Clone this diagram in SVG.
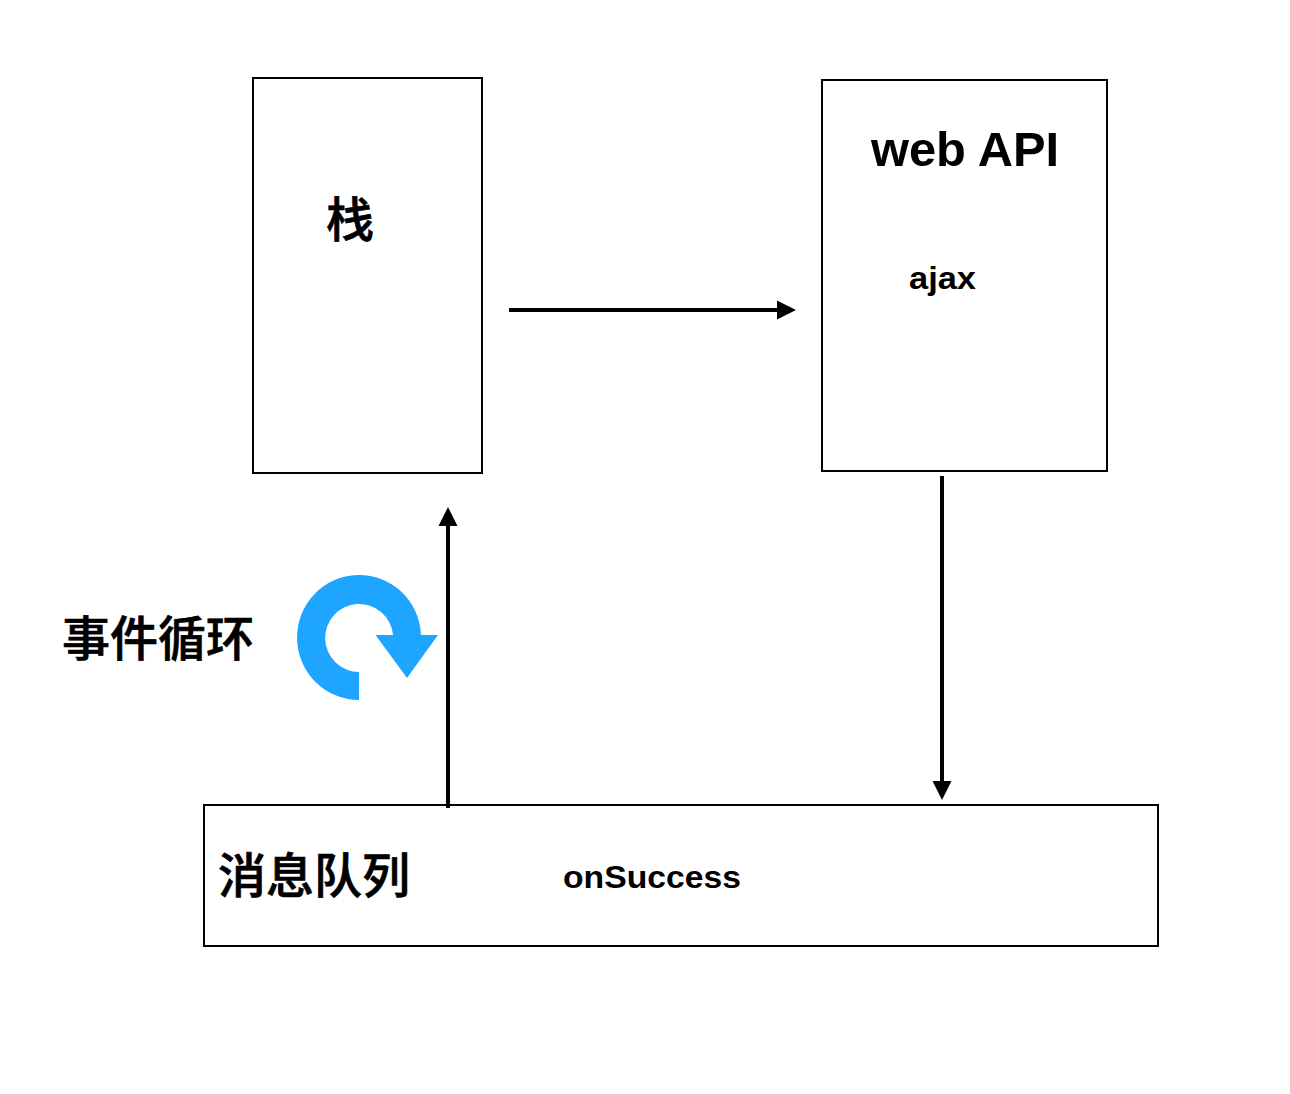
<svg xmlns="http://www.w3.org/2000/svg" width="1290" height="1094" viewBox="0 0 1290 1094">
<style>
.box{fill:#fff;stroke:#000;stroke-width:2}
.line{fill:none;stroke:#000;stroke-width:4}
text{font-family:"Liberation Sans","Noto Sans CJK SC",sans-serif;font-weight:700;fill:#000}
.cjk{font-family:"Noto Sans CJK SC","Liberation Sans",sans-serif;font-size:48px;font-weight:500;stroke:#000;stroke-width:0.7}
</style>
<defs><marker id="ah" markerUnits="userSpaceOnUse" markerWidth="20" markerHeight="20" refX="1" refY="10" orient="auto"><path d="M0 0.500L19 10L0 19.500Z" fill="#000"/></marker></defs>
<rect width="1290" height="1094" fill="#fff"/>
<g id="stack"><rect class="box" x="253" y="78" width="229" height="395"/><text class="cjk" x="326" y="237">栈</text></g>
<g id="webapi"><rect class="box" x="822" y="80" width="285" height="391"/><text x="871" y="166" font-size="48" textLength="188" lengthAdjust="spacingAndGlyphs">web API</text><text x="909" y="289" font-size="32" textLength="67" lengthAdjust="spacingAndGlyphs">ajax</text></g>
<g id="queue"><rect class="box" x="204" y="805" width="954" height="141"/><text class="cjk" x="218" y="893">消息队列</text><text x="563" y="888" font-size="32" textLength="178" lengthAdjust="spacingAndGlyphs">onSuccess</text></g>
<g id="loop"><text class="cjk" x="62" y="656">事件循环</text>
<path d="M359 700A62 62.500 0 1 1 421 635L438 635L407 678L375.500 635L393 635A34 34 0 1 0 359 672Z" fill="#1ea5ff"/></g>
<g id="connectors">
<path class="line" d="M509 310H778" marker-end="url(#ah)"/>
<path class="line" d="M942 476V782" marker-end="url(#ah)"/>
<path class="line" d="M448 808V525" marker-end="url(#ah)"/>
</g>
</svg>
